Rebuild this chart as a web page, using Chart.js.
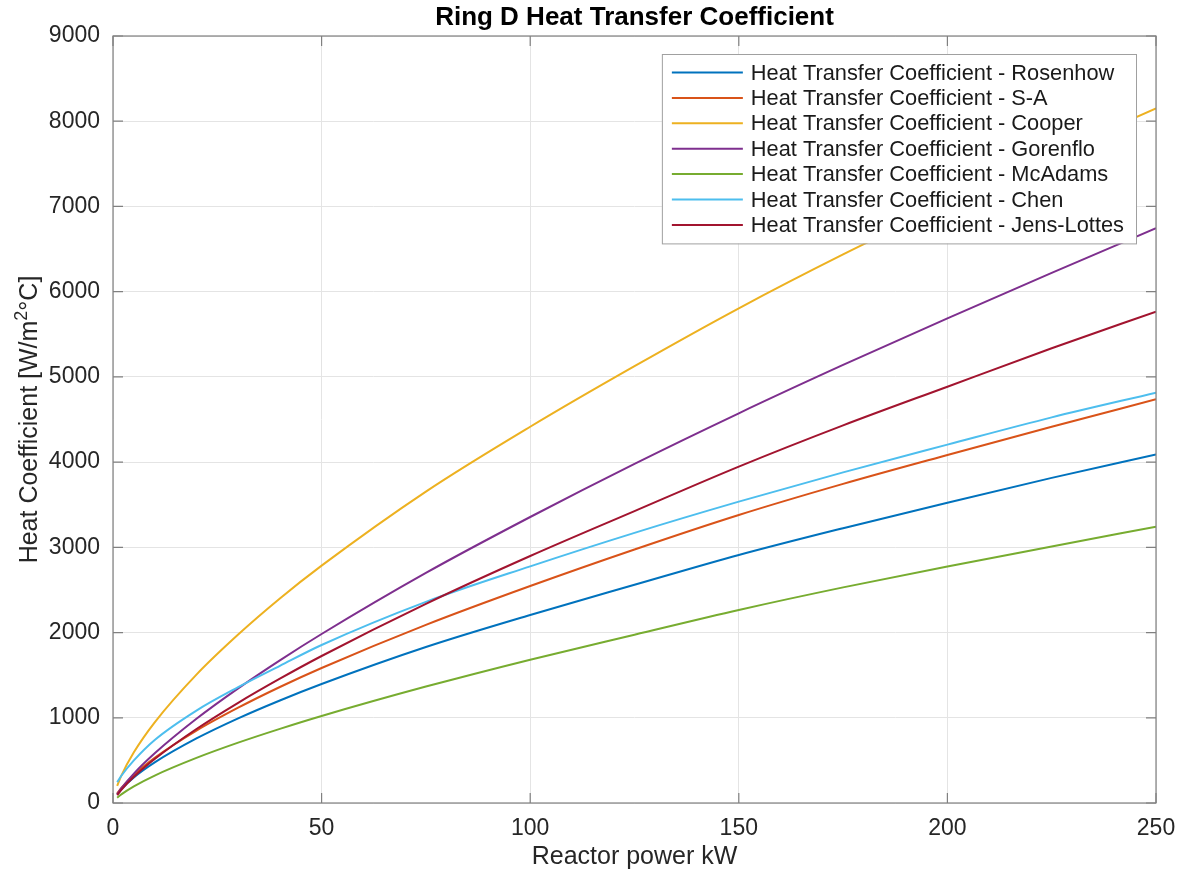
<!DOCTYPE html>
<html>
<head>
<meta charset="utf-8">
<script src="https://cdn.jsdelivr.net/npm/chart.js@4.4.1/dist/chart.umd.min.js"></script>
<style>
  html, body { margin: 0; padding: 0; background: #ffffff; }
  #wrap { width: 1179px; height: 873px; }
</style>
</head>
<body>
<div id="wrap"><canvas id="c" width="1179" height="873"></canvas></div>
<script>
// Reactor power (kW) sample points
const power = [1, 2, 5, 10, 20, 30, 40, 50, 75, 100, 125, 150, 175, 200, 225, 250];

// Heat transfer coefficient (W/m²°C) for each correlation
const rosenhow   = [102, 163, 300, 476, 757, 993, 1203, 1396, 1830, 2206, 2560, 2910, 3225, 3524, 3815, 4091];
const sa         = [111, 177, 330, 529, 849, 1118, 1361, 1584, 2090, 2546, 2975, 3380, 3745, 4084, 4415, 4737];
const cooper     = [200, 322, 595, 947, 1507, 1977, 2400, 2785, 3654, 4415, 5126, 5805, 6437, 7030, 7606, 8150];
const gorenflo   = [102, 172, 345, 583, 988, 1345, 1674, 1983, 2700, 3356, 3980, 4573, 5140, 5687, 6220, 6744];
const mcadams    = [62, 101, 195, 322, 529, 708, 870, 1021, 1366, 1682, 1975, 2265, 2530, 2775, 3010, 3243];
const chen       = [245, 320, 500, 740, 1085, 1360, 1610, 1854, 2360, 2777, 3170, 3536, 3880, 4205, 4525, 4815];
const jensLottes = [92, 154, 307, 516, 868, 1176, 1459, 1725, 2337, 2898, 3425, 3947, 4431, 4885, 5336, 5765];

const seriesNames = ['Rosenhow', 'S-A', 'Cooper', 'Gorenflo', 'McAdams', 'Chen', 'Jens-Lottes'];
const seriesValues = [rosenhow, sa, cooper, gorenflo, mcadams, chen, jensLottes];
const seriesColors = ['#0072BD', '#D95319', '#EDB120', '#7E2F8E', '#77AC30', '#4DBEEE', '#A2142F'];

// Axis ticks
const xTicks = [0, 50, 100, 150, 200, 250];
const yTicks = [0, 1000, 2000, 3000, 4000, 5000, 6000, 7000, 8000, 9000];

const chartTitle = 'Ring D Heat Transfer Coefficient';
const xTitle = 'Reactor power kW';
const yTitleParts = ['Heat Coefficient [W/m', '2', '°C]'];
const legendPrefix = 'Heat Transfer Coefficient - ';

const FONT = '"Liberation Sans", Arial, Helvetica, sans-serif';
const AXIS_COLOR = '#808080';

const datasets = seriesValues.map((vals, i) => ({
  label: legendPrefix + seriesNames[i],
  data: power.map((p, k) => ({ x: p, y: vals[k] })),
  borderColor: seriesColors[i],
  backgroundColor: seriesColors[i],
  borderWidth: 2,
  pointRadius: 0,
  fill: false,
  cubicInterpolationMode: 'monotone',
  order: -i
}));

// Box around the axes with inward tick marks on all four sides
const framePlugin = {
  id: 'frame',
  afterDatasetsDraw(chart) {
    const { ctx, chartArea: a, scales } = chart;
    ctx.save();
    ctx.strokeStyle = AXIS_COLOR;
    ctx.lineWidth = 1.2;
    ctx.strokeRect(a.left, a.top, a.right - a.left, a.bottom - a.top);
    const tl = 10;
    ctx.beginPath();
    xTicks.forEach(v => {
      const px = scales.x.getPixelForValue(v);
      ctx.moveTo(px, a.bottom); ctx.lineTo(px, a.bottom - tl);
      ctx.moveTo(px, a.top); ctx.lineTo(px, a.top + tl);
    });
    yTicks.forEach(v => {
      const py = scales.y.getPixelForValue(v);
      ctx.moveTo(a.left, py); ctx.lineTo(a.left + tl, py);
      ctx.moveTo(a.right, py); ctx.lineTo(a.right - tl, py);
    });
    ctx.stroke();
    ctx.restore();
  }
};

// Boxed legend in the upper right of the plot area
const legendPlugin = {
  id: 'boxLegend',
  afterDatasetsDraw(chart) {
    const { ctx, chartArea: a } = chart;
    ctx.save();
    ctx.font = '21.8px ' + FONT;
    const labels = datasets.map(d => d.label);
    const tw = Math.max(...labels.map(t => ctx.measureText(t).width));
    const rowH = 25.4;
    const boxW = 10 + 71 + 8 + tw + 12;
    const boxH = 6 * rowH + 37;
    const boxR = a.right - 20;
    const boxL = boxR - boxW;
    const boxT = a.top + 18;
    ctx.fillStyle = '#ffffff';
    ctx.fillRect(boxL, boxT, boxW, boxH);
    ctx.strokeStyle = '#a0a0a0';
    ctx.lineWidth = 1;
    ctx.strokeRect(boxL + 0.5, boxT + 0.5, boxW, boxH);
    ctx.textBaseline = 'middle';
    ctx.textAlign = 'left';
    labels.forEach((t, i) => {
      const cy = boxT + 18.5 + i * rowH;
      ctx.strokeStyle = seriesColors[i];
      ctx.lineWidth = 2;
      ctx.beginPath();
      ctx.moveTo(boxL + 10, cy);
      ctx.lineTo(boxL + 81, cy);
      ctx.stroke();
      ctx.fillStyle = '#1a1a1a';
      ctx.fillText(t, boxL + 89, cy + 1);
    });
    ctx.restore();
  }
};

// Chart title and axis titles
const titlesPlugin = {
  id: 'titles',
  afterDraw(chart) {
    const { ctx, chartArea: a } = chart;
    const cx = (a.left + a.right) / 2;
    const cy = (a.top + a.bottom) / 2;
    ctx.save();
    ctx.fillStyle = '#000000';
    ctx.textAlign = 'center';
    ctx.textBaseline = 'alphabetic';
    ctx.font = 'bold 26px ' + FONT;
    ctx.fillText(chartTitle, cx, 25);

    ctx.fillStyle = '#262626';
    ctx.font = '25px ' + FONT;
    ctx.fillText(xTitle, cx, 864);

    // Rotated y title with a raised superscript
    const mainFont = '25px ' + FONT;
    const supFont = '18px ' + FONT;
    ctx.font = mainFont;
    const w0 = ctx.measureText(yTitleParts[0]).width;
    const w2 = ctx.measureText(yTitleParts[2]).width;
    ctx.font = supFont;
    const w1 = ctx.measureText(yTitleParts[1]).width;
    const total = w0 + w1 + w2;
    ctx.translate(37, cy);
    ctx.rotate(-Math.PI / 2);
    ctx.textAlign = 'left';
    let x = -total / 2;
    ctx.font = mainFont;
    ctx.fillText(yTitleParts[0], x, 0);
    x += w0;
    ctx.font = supFont;
    ctx.fillText(yTitleParts[1], x, -10);
    x += w1;
    ctx.font = mainFont;
    ctx.fillText(yTitleParts[2], x, 0);
    ctx.restore();
  }
};

const plainTick = v => String(v);

new Chart(document.getElementById('c'), {
  type: 'line',
  data: { datasets },
  options: {
    responsive: false,
    animation: false,
    devicePixelRatio: 1,
    layout: { padding: { top: 36, right: 23, left: 0, bottom: 0 } },
    plugins: {
      legend: { display: false },
      title: { display: false },
      tooltip: { enabled: false }
    },
    scales: {
      x: {
        type: 'linear',
        min: 0,
        max: 250,
        afterBuildTicks: s => { s.ticks = xTicks.map(v => ({ value: v })); },
        afterFit: s => { s.height = 70; s.paddingLeft = 0; s.paddingRight = 0; },
        grid: { color: '#e4e4e4', lineWidth: 1, drawTicks: false },
        border: { display: false },
        ticks: {
          autoSkip: false,
          maxRotation: 0,
          padding: 12,
          color: '#262626',
          font: { family: FONT, size: 23 },
          callback: plainTick
        }
      },
      y: {
        type: 'linear',
        min: 0,
        max: 9000,
        afterBuildTicks: s => { s.ticks = yTicks.map(v => ({ value: v })); },
        afterFit: s => { s.width = 113; s.paddingTop = 0; s.paddingBottom = 0; },
        grid: { color: '#e4e4e4', lineWidth: 1, drawTicks: false },
        border: { display: false },
        ticks: {
          autoSkip: false,
          padding: 13,
          color: '#262626',
          font: { family: FONT, size: 23 },
          callback: plainTick
        }
      }
    }
  },
  plugins: [framePlugin, legendPlugin, titlesPlugin]
});
</script>
</body>
</html>
